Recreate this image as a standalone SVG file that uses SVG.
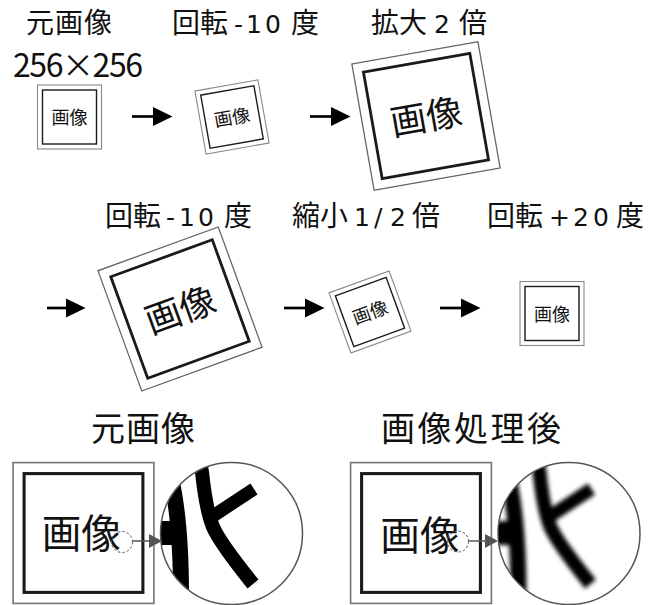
<svg xmlns="http://www.w3.org/2000/svg" width="665" height="605" viewBox="0 0 665 605">
<style>
text{font-family:"Noto Sans CJK JP","Noto Sans",sans-serif;fill:#111}
.lbl{font-size:28px}
.lat{font-family:"DejaVu Sans","Noto Sans CJK JP",sans-serif;font-size:25px}
.big{font-size:34px}
.o{fill:#fff;stroke:#888;stroke-width:1.1}
.s .o{stroke:#666;stroke-width:0.65}
.i{fill:none;stroke:#1a1a1a;stroke-width:1.4}
.bt{font-size:18px;text-anchor:middle}
.arr{stroke:#000;stroke-width:2.7;fill:none;marker-end:url(#ah)}
.garr{stroke:#555;stroke-width:1.5;fill:none;marker-end:url(#ahg)}
.dc{fill:none;stroke:#555;stroke-width:1;stroke-dasharray:2.5 2}
.mc{fill:#fff;stroke:#555;stroke-width:1.5}
.st{fill:none;stroke:#000;stroke-linecap:butt}
</style>
<defs>
<marker id="ah" markerUnits="userSpaceOnUse" markerWidth="20" markerHeight="20" refX="0" refY="10" orient="auto" viewBox="0 0 20 20"><path d="M0,0.5 L19.5,10 L0,19.5z" fill="#000"/></marker>
<marker id="ahg" markerUnits="userSpaceOnUse" markerWidth="14" markerHeight="14" refX="0" refY="7" orient="auto" viewBox="0 0 14 14"><path d="M0,0 L13,7 L0,14z" fill="#555"/></marker>
<clipPath id="clipL"><circle cx="231.5" cy="533.5" r="70.5"/></clipPath>
<clipPath id="clipR"><circle cx="569" cy="533.5" r="70.5"/></clipPath>
<filter id="blur" x="-20%" y="-20%" width="140%" height="140%"><feGaussianBlur stdDeviation="2.2"/></filter>
<g id="strokes">
<path class="st" d="M169,470 Q181,515 181,595" stroke-width="16"/>
<rect x="150" y="521" width="30" height="24" fill="#000"/>
<path class="st" d="M199,455 L202,472 Q206,510 213,527 Q220,543 253,584" stroke-width="14"/>
<path class="st" d="M213,516 L254,489" stroke-width="13"/>
</g>
</defs>

<g id="labels">
<text class="lbl" x="26" y="33" textLength="86">元画像</text>
<text x="13" y="77" style="font-size:32px" textLength="130">256×256</text>
<text class="lbl" y="33"><tspan x="172">回転</tspan><tspan class="lat" x="234">-</tspan><tspan class="lat" x="246" letter-spacing="3">10</tspan><tspan x="291">度</tspan></text>
<text class="lbl" y="33"><tspan x="371">拡大</tspan><tspan class="lat" x="434">2</tspan><tspan x="459">倍</tspan></text>
<text class="lbl" y="226"><tspan x="105">回転</tspan><tspan class="lat" x="166">-</tspan><tspan class="lat" x="179" letter-spacing="3">10</tspan><tspan x="224">度</tspan></text>
<text class="lbl" y="226"><tspan x="292">縮小</tspan><tspan class="lat" x="354">1</tspan><tspan class="lat" x="374">/</tspan><tspan class="lat" x="390">2</tspan><tspan x="412">倍</tspan></text>
<text class="lbl" y="226"><tspan x="487">回転</tspan><tspan class="lat" x="549">+</tspan><tspan class="lat" x="573">2</tspan><tspan class="lat" x="593">0</tspan><tspan x="616">度</tspan></text>
<text class="big" x="91" y="441" textLength="104">元画像</text>
<text class="big" x="381" y="441" textLength="180">画像処理後</text>
</g>

<g id="box1" transform="translate(69.5,117)"><rect class="o" x="-32" y="-32" width="64" height="64"/><rect class="i" x="-27" y="-27" width="54" height="54"/><text class="bt" x="0" y="7">画像</text></g>
<g id="box2" transform="translate(232,117) rotate(-10)"><rect class="o" x="-32" y="-32" width="64" height="64"/><rect class="i" x="-27" y="-27" width="54" height="54"/><text class="bt" x="0" y="7">画像</text></g>
<g id="box3" class="s" transform="translate(426,116) rotate(-10) scale(2)"><rect class="o" x="-32" y="-32" width="64" height="64"/><rect class="i" x="-27" y="-27" width="54" height="54"/><text class="bt" x="0" y="7">画像</text></g>
<g id="box4" class="s" transform="translate(180,309) rotate(-20) scale(2)"><rect class="o" x="-32" y="-32" width="64" height="64"/><rect class="i" x="-27" y="-27" width="54" height="54"/><text class="bt" x="0" y="7">画像</text></g>
<g id="box5" transform="translate(370,312) rotate(-20)"><rect class="o" x="-32" y="-32" width="64" height="64"/><rect class="i" x="-27" y="-27" width="54" height="54"/><text class="bt" x="0" y="7">画像</text></g>
<g id="box6" transform="translate(552,313.5)"><rect class="o" x="-32" y="-32" width="64" height="64"/><rect class="i" x="-27" y="-27" width="54" height="54"/><text class="bt" x="0" y="7">画像</text></g>

<g id="orig">
<g class="s" transform="translate(83.5,533) scale(2.2)"><rect class="o" x="-32" y="-32" width="64" height="64" style="stroke:#777;stroke-width:0.75"/><rect class="i" x="-27" y="-27" width="54" height="54"/><text class="bt" x="-1" y="7">画像</text></g>
<circle class="dc" cx="122" cy="542" r="10.5"/>
</g>
<g id="processed">
<g class="s" transform="translate(421,533) scale(2.2)"><rect class="o" x="-32" y="-32" width="64" height="64" style="stroke:#777;stroke-width:0.75"/><rect class="i" x="-27" y="-27" width="54" height="54"/><text class="bt" x="-0.5" y="7.5">画像</text></g>
<circle class="dc" cx="458" cy="541.5" r="10.5"/>
</g>

<g id="zoomL">
<circle class="mc" cx="231.5" cy="533.5" r="71"/>
<g clip-path="url(#clipL)"><use href="#strokes"/></g>
</g>
<g id="zoomR">
<circle class="mc" cx="569" cy="533.5" r="71"/>
<g clip-path="url(#clipR)"><g filter="url(#blur)"><use href="#strokes" transform="translate(337.5,0)"/></g></g>
</g>

<g id="connectors">
<line class="arr" x1="132" y1="116.5" x2="153" y2="116.5"/>
<line class="arr" x1="310" y1="116.5" x2="331" y2="116.5"/>
<line class="arr" x1="47" y1="308" x2="66" y2="308"/>
<line class="arr" x1="284" y1="308" x2="305" y2="308"/>
<line class="arr" x1="440" y1="308" x2="461" y2="308"/>
<line class="garr" x1="132.5" y1="541" x2="149" y2="541"/>
<line class="garr" x1="468.5" y1="541" x2="485" y2="541"/>
</g>
</svg>
